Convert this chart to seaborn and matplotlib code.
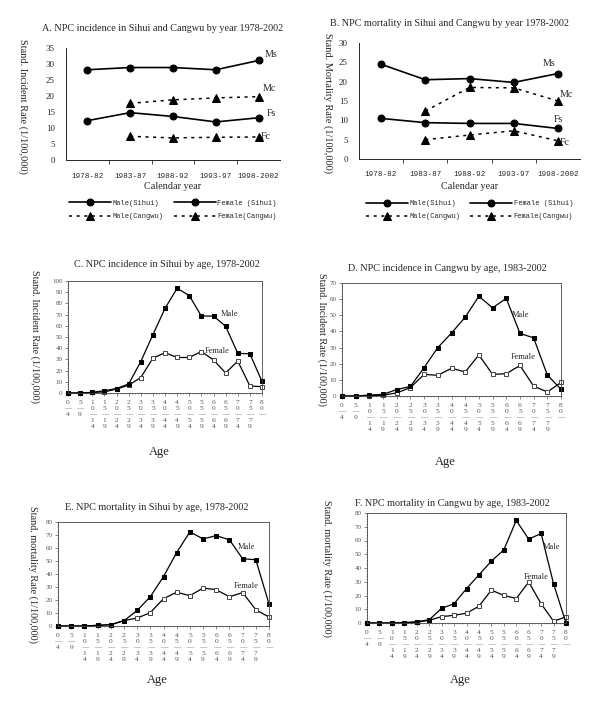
import numpy as np
import pandas as pd
import matplotlib
matplotlib.use("Agg")
import matplotlib.pyplot as plt
import seaborn as sns
from matplotlib.ticker import MultipleLocator, AutoMinorLocator

# ---- data: by calendar period (panels A, B) ----
periods = ["1978-82", "1983-87", "1988-92", "1993-97", "1998-2002"]
inc_male_sihui = [28.2, 28.9, 28.9, 28.2, 31.1]
inc_female_sihui = [12.3, 14.8, 13.6, 11.9, 13.2]
inc_male_cangwu = [np.nan, 17.7, 18.8, 19.4, 19.8]
inc_female_cangwu = [np.nan, 7.4, 6.9, 7.1, 7.2]

mor_male_sihui = [24.5, 20.5, 20.8, 19.8, 22.1]
mor_female_sihui = [10.5, 9.4, 9.2, 9.2, 7.9]
mor_male_cangwu = [np.nan, 12.4, 18.5, 18.4, 15.0]
mor_female_cangwu = [np.nan, 5.0, 6.2, 7.3, 4.7]

# ---- data: by age group (panels C-F) ----
ages = ["0-4", "5-9", "10-14", "15-19", "20-24", "25-29", "30-34", "35-39",
        "40-44", "45-49", "50-54", "55-59", "60-64", "65-69", "70-74",
        "75-79", "80-"]
inc_sihui_male = [0, 0, 0.6, 2, 4, 8, 28, 52, 75.5, 93.5, 87, 68.7, 68.7,
                  59.6, 35.4, 35, 10.3]
inc_sihui_female = [0, 0, 0.5, 1, 3.5, 7, 13.8, 31, 36, 31.7, 31.7, 37,
                    29.5, 17.9, 28.5, 6.3, 5.6]
inc_cangwu_male = [0, 0, 0.6, 1, 4, 5.9, 17.6, 30, 39, 48.8, 61.8, 54.6,
                   60.5, 38.8, 36, 13, 4.2]
inc_cangwu_female = [0, 0, 0.3, 0.5, 1.9, 5.2, 13.4, 12.8, 17.2, 14.9, 25.4,
                     13.4, 13.8, 18.9, 6.1, 2.5, 8.4]
mor_sihui_male = [0, 0, 0, 0.5, 1, 4, 12, 22.5, 38, 56.5, 72.4, 67, 69.5,
                  66.3, 51.7, 51, 17]
mor_sihui_female = [0, 0, 0, 0.5, 1, 4.2, 6.1, 10.3, 21, 26, 23.3, 29.2,
                    27.9, 22.5, 25.7, 12.5, 6.9]
mor_cangwu_male = [0, 0, 0, 0.3, 1, 2.3, 10.7, 14, 25, 35, 45, 53.2, 74.6,
                   61, 65.1, 28.5, 0]
mor_cangwu_female = [0, 0, 0, 0, 0.5, 2, 4.6, 5.6, 7.1, 12.2, 23.9, 20.1,
                     17.8, 29.8, 14, 1.3, 4.5]

sns.set_theme(style="white")
plt.rcParams["font.family"] = ["Liberation Serif", "DejaVu Serif"]
plt.rcParams["axes.linewidth"] = 0.7

fig = plt.figure(figsize=(6, 7.02), dpi=100)
W, H = 600.0, 702.0


def add_axes(left, top, right, bottom):
    return fig.add_axes([left / W, 1 - bottom / H, (right - left) / W, (bottom - top) / H])


def year_panel(ax, title, ylabel, ymax, ms, fs, mc, fc, notes, title_x, ylab_x):
    xs = np.arange(len(periods))
    df = pd.DataFrame({"x": xs, "ms": ms, "fs": fs, "mc": mc, "fc": fc})
    solid = dict(color="black", lw=1.2, marker="o", markersize=5,
                 markeredgecolor="black")
    dotted = dict(color="black", lw=1.1, marker="^", markersize=5.5,
                  markeredgecolor="black", linestyle=(0, (2, 3)))
    sns.lineplot(data=df, x="x", y="ms", ax=ax, label="Male(Sihui)", **solid)
    sns.lineplot(data=df, x="x", y="mc", ax=ax, label="Male(Cangwu)", **dotted)
    sns.lineplot(data=df, x="x", y="fs", ax=ax, label="Female (Sihui)", **solid)
    sns.lineplot(data=df, x="x", y="fc", ax=ax, label="Female(Cangwu)", **dotted)
    ax.set_xlim(-0.5, len(periods) - 0.5)
    ax.set_ylim(0, ymax)
    ax.yaxis.set_major_locator(MultipleLocator(5))
    ax.set_xticks(xs)
    ax.set_xticklabels(periods, family="Liberation Mono", fontsize=5.5)
    ax.set_xticks(xs[:-1] + 0.5, minor=True)
    ax.tick_params(axis="x", which="major", length=0, pad=9)
    ax.tick_params(axis="x", which="minor", length=3, width=0.6, direction="out", bottom=True)
    ax.tick_params(axis="y", length=0, labelsize=6.5, pad=8)
    sns.despine(ax=ax)
    ax.set_xlabel("Calendar year", fontsize=7.3)
    ax.xaxis.set_label_coords(0.5, -0.2)
    ax.set_ylabel(ylabel, fontsize=7.4, rotation=270, va="center")
    ax.yaxis.set_label_coords(ylab_x, 0.48)
    ax.set_title(title, fontsize=7.3, x=title_x, pad=12)
    for txt, x, y in notes:
        ax.text(x, y, txt, fontsize=7.2)
    ax.legend(loc="upper center", bbox_to_anchor=(0.5, -0.30), ncol=2,
              frameon=False, prop={"family": "Liberation Mono", "size": 5},
              handlelength=6, columnspacing=1.5, labelspacing=0.9,
              handletextpad=0.2)


def stack(lbl):
    return "\n".join("—" if c == "-" else c for c in lbl)


def age_panel(ax, title, ylabel, ymax, male, female, male_pos, female_pos,
              title_x, title_pad, ylab_x, age_y):
    xs = np.arange(len(ages))
    df = pd.DataFrame({"x": xs, "male": male, "female": female})
    sns.lineplot(data=df, x="x", y="female", ax=ax, color="black", lw=0.9,
                 marker="s", markersize=3, markerfacecolor="white",
                 markeredgecolor="#444444", markeredgewidth=0.7, clip_on=False)
    sns.lineplot(data=df, x="x", y="male", ax=ax, color="black", lw=0.9,
                 marker="s", markersize=3, markerfacecolor="black",
                 markeredgecolor="black", clip_on=False)
    ax.set_xlim(0, len(ages) - 1)
    ax.set_ylim(0, ymax)
    ax.yaxis.set_major_locator(MultipleLocator(10))
    ax.yaxis.set_minor_locator(AutoMinorLocator(5))
    ax.set_xticks(xs)
    ax.set_xticklabels([stack(a) for a in ages], fontsize=5.3, color="#555555",
                       va="top", linespacing=1.25)
    ax.xaxis.set_minor_locator(AutoMinorLocator(4))
    ax.tick_params(axis="both", which="major", length=2, width=0.5,
                   color="#555555", bottom=True, left=True, direction="out")
    ax.tick_params(axis="both", which="minor", length=1, width=0.4,
                   color="#777777", bottom=True, left=True, direction="out")
    ax.tick_params(axis="y", labelsize=5, labelcolor="#555555", pad=2)
    ax.tick_params(axis="x", pad=3)
    for sp in ax.spines.values():
        sp.set_visible(True)
        sp.set_linewidth(0.6)
        sp.set_color("#444444")
    ax.set_xlabel("Age", fontsize=9)
    ax.xaxis.set_label_coords(0.47, age_y)
    ax.set_ylabel(ylabel, fontsize=7.3, rotation=270, va="center")
    ax.yaxis.set_label_coords(ylab_x, 0.5)
    ax.set_title(title, fontsize=7.3, x=title_x, pad=title_pad)
    ax.text(male_pos[0], male_pos[1], "Male", fontsize=6)
    ax.text(female_pos[0], female_pos[1], "Female", fontsize=6)
    if ax.get_legend() is not None:
        ax.get_legend().remove()


axA = add_axes(66, 48, 280, 160)
year_panel(axA, "A. NPC incidence in Sihui and Cangwu by year 1978-2002",
           "Stand. Incident Rate (1/100,000)", 35,
           inc_male_sihui, inc_female_sihui, inc_male_cangwu, inc_female_cangwu,
           [("Ms", 4.15, 32.3), ("Mc", 4.1, 21.5), ("Fs", 4.2, 13.7), ("Fc", 4.05, 6.5)],
           title_x=0.45, ylab_x=-0.2)

axB = add_axes(359, 43, 580, 159)
year_panel(axB, "B. NPC mortality in Sihui and Cangwu by year 1978-2002",
           "Stand. Mortality Rate (1/100,000)", 30,
           mor_male_sihui, mor_female_sihui, mor_male_cangwu, mor_female_cangwu,
           [("Ms", 3.65, 24.0), ("Mc", 4.05, 16.0), ("Fs", 3.9, 9.6), ("Fc", 4.05, 3.7)],
           title_x=0.41, ylab_x=-0.14)

axC = add_axes(68, 281, 262, 393)
age_panel(axC, "C. NPC incidence in Sihui by age, 1978-2002",
          "Stand. Incident Rate (1/100,000)", 100,
          inc_sihui_male, inc_sihui_female, (12.6, 69), (11.3, 35.5),
          title_x=0.51, title_pad=10, ylab_x=-0.17, age_y=-0.47)

axD = add_axes(342, 283, 561, 396)
age_panel(axD, "D. NPC incidence in Cangwu by age, 1983-2002",
          "Stand. Incident Rate (1/100,000)", 70,
          inc_cangwu_male, inc_cangwu_female, (12.4, 49), (12.3, 23),
          title_x=0.48, title_pad=9, ylab_x=-0.09, age_y=-0.53)

axE = add_axes(58, 522, 269, 626)
age_panel(axE, "E. NPC mortality in Sihui by age, 1978-2002",
          "Stand. mortality Rate (1/100,000)", 80,
          mor_sihui_male, mor_sihui_female, (13.6, 59.5), (13.3, 29),
          title_x=0.47, title_pad=9, ylab_x=-0.12, age_y=-0.46)

axF = add_axes(367, 513, 566, 623)
age_panel(axF, "F. NPC mortality in Cangwu by age, 1983-2002",
          "Stand. mortality Rate (1/100,000)", 80,
          mor_cangwu_male, mor_cangwu_female, (14.1, 53.5), (12.6, 31.7),
          title_x=0.43, title_pad=5, ylab_x=-0.2, age_y=-0.46)

fig.savefig("out.png", dpi=100, facecolor="white")
